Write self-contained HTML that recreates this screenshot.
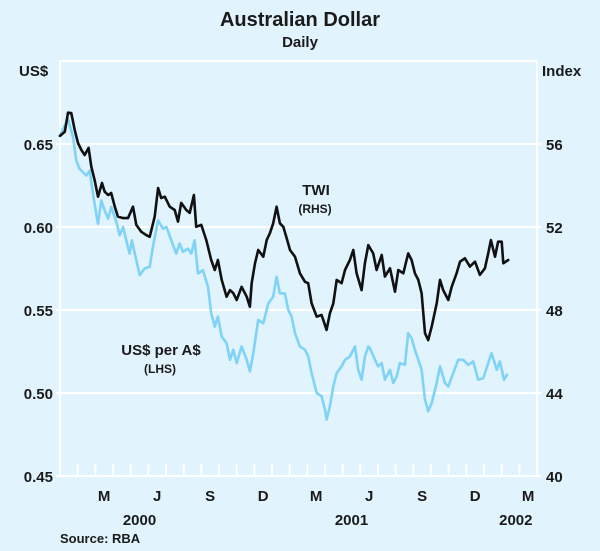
<!DOCTYPE html>
<html><head><meta charset="utf-8"><style>
body{margin:0;background:#e1f3fd;}
svg{display:block;font-family:"Liberation Sans",Arial,sans-serif;}
</style></head><body>
<svg id="chart" width="600" height="551" viewBox="0 0 600 551">
<rect x="0" y="0" width="600" height="551" fill="#e1f3fd"/>
<text x="300" y="26" text-anchor="middle" font-size="20" font-weight="bold" fill="#1a1a1a">Australian Dollar</text>
<text x="300" y="47" text-anchor="middle" font-size="15" font-weight="bold" fill="#1a1a1a">Daily</text>
<text x="19" y="76" font-size="15" font-weight="bold" fill="#1a1a1a">US$</text>
<text x="542" y="76" font-size="15" font-weight="bold" fill="#1a1a1a">Index</text>
<g id="grid"></g>
<g id="axes"></g>
<g id="series"></g>
<text x="316" y="195" text-anchor="middle" font-size="15" font-weight="bold" fill="#1a1a1a">TWI</text>
<text x="315" y="213" text-anchor="middle" font-size="12" font-weight="bold" fill="#1a1a1a">(RHS)</text>
<text x="161" y="355" text-anchor="middle" font-size="15" font-weight="bold" fill="#1a1a1a">US$ per A$</text>
<text x="160" y="373" text-anchor="middle" font-size="12" font-weight="bold" fill="#1a1a1a">(LHS)</text>
<text x="60" y="543" font-size="13" font-weight="bold" fill="#1a1a1a">Source: RBA</text>
</svg>
<script>
const leftTicks=[0.45,0.50,0.55,0.60,0.65];
const rightTicks=[40,44,48,52,56];
const monthLabels=["M","J","S","D","M","J","S","D","M"];
const monthLabelPos=[2,5,8,11,14,17,20,23,26];
const yearLabels=["2000","2001","2002"];
const yearLabelPos=[4.5,16.5,25.8];
const twiMonths=[0,0.27,0.45,0.64,0.83,1.02,1.21,1.40,1.62,1.77,1.96,2.15,2.38,2.53,2.72,2.90,3.10,3.28,3.57,3.85,4.13,4.32,4.60,4.88,5.08,5.36,5.55,5.73,5.93,6.21,6.49,6.68,6.86,7.15,7.34,7.58,7.71,8.00,8.28,8.56,8.76,8.94,9.15,9.43,9.62,9.81,10.00,10.28,10.57,10.75,10.85,11.04,11.22,11.51,11.70,11.88,12.07,12.26,12.45,12.64,12.83,13.02,13.30,13.58,13.87,14.05,14.24,14.53,14.81,15.09,15.28,15.47,15.66,15.94,16.13,16.41,16.60,16.79,17.07,17.26,17.45,17.73,17.92,18.21,18.39,18.68,18.96,19.15,19.43,19.71,19.90,20.09,20.28,20.47,20.66,20.84,21.04,21.32,21.51,21.69,21.98,22.17,22.45,22.64,22.92,23.20,23.49,23.77,24.05,24.24,24.39,24.62,24.80,25.00,25.09,25.37];
const twiValues=[56.39,56.59,57.51,57.49,56.68,56.05,55.71,55.47,55.81,54.91,54.27,53.46,54.12,53.70,53.54,53.64,52.98,52.50,52.43,52.43,52.98,52.10,51.77,51.61,51.53,52.50,53.88,53.40,53.46,52.98,52.82,52.26,53.16,52.82,52.68,53.54,52.01,52.10,51.37,50.41,49.93,50.41,49.45,48.64,48.96,48.81,48.48,49.12,48.64,48.16,49.30,50.25,50.89,50.57,51.37,51.70,52.18,52.98,52.18,52.01,51.46,50.89,50.57,49.77,49.36,49.29,48.32,47.68,47.76,47.04,47.84,48.32,49.45,49.29,49.93,50.41,50.89,49.77,48.96,50.25,51.13,50.73,49.93,50.65,49.61,50.01,48.88,49.93,49.77,50.73,50.41,49.77,49.45,48.81,46.88,46.55,47.20,48.32,49.45,48.96,48.48,49.12,49.77,50.33,50.49,50.09,50.33,49.69,50.01,50.73,51.37,50.57,51.29,51.29,50.25,50.41];
const usdMonths=[0,0.45,0.74,0.92,1.11,1.30,1.49,1.68,1.87,2.05,2.15,2.34,2.53,2.72,2.90,3.19,3.38,3.57,3.75,3.94,4.07,4.32,4.51,4.79,5.08,5.26,5.55,5.83,6.02,6.30,6.58,6.77,6.96,7.24,7.43,7.62,7.81,8.09,8.38,8.56,8.76,8.94,9.15,9.43,9.62,9.81,10.00,10.28,10.57,10.75,10.94,11.22,11.51,11.79,12.07,12.26,12.45,12.73,12.92,13.11,13.30,13.58,13.87,14.05,14.24,14.53,14.81,15.00,15.09,15.28,15.47,15.66,15.94,16.13,16.41,16.70,16.88,17.07,17.26,17.45,17.54,17.83,18.01,18.21,18.39,18.68,18.86,19.06,19.24,19.52,19.71,19.90,20.09,20.28,20.47,20.66,20.84,21.04,21.32,21.51,21.79,21.98,22.26,22.54,22.82,23.11,23.39,23.67,23.96,24.24,24.43,24.72,24.90,25.13,25.31];
const usdValues=[0.655,0.665,0.654,0.640,0.635,0.633,0.631,0.634,0.620,0.608,0.602,0.616,0.610,0.605,0.612,0.603,0.595,0.600,0.592,0.584,0.592,0.580,0.571,0.575,0.576,0.588,0.604,0.599,0.600,0.592,0.584,0.590,0.585,0.587,0.584,0.592,0.572,0.574,0.564,0.548,0.540,0.546,0.534,0.530,0.520,0.526,0.518,0.528,0.520,0.513,0.524,0.544,0.542,0.554,0.558,0.570,0.560,0.560,0.550,0.546,0.536,0.528,0.526,0.522,0.512,0.500,0.498,0.490,0.484,0.492,0.504,0.512,0.516,0.520,0.522,0.528,0.514,0.508,0.522,0.528,0.527,0.520,0.516,0.518,0.508,0.514,0.506,0.510,0.518,0.517,0.536,0.533,0.526,0.520,0.514,0.496,0.489,0.494,0.506,0.516,0.506,0.504,0.512,0.520,0.520,0.517,0.519,0.508,0.509,0.518,0.524,0.514,0.519,0.508,0.511];

const NS="http://www.w3.org/2000/svg";
const X0=60,X1=537,Y0=61,Y1=476,MONTHS=27;
function xS(m){return X0+(X1-X0)*m/MONTHS;}
function yL(v){return Y1-(v-0.45)/(0.70-0.45)*(Y1-Y0);}
function yR(v){return Y1-(v-40)/(60-40)*(Y1-Y0);}
function mk(tag,attrs,parent){const e=document.createElementNS(NS,tag);for(const k in attrs)e.setAttribute(k,attrs[k]);parent.appendChild(e);return e;}
const gridG=document.getElementById('grid'),axesG=document.getElementById('axes'),seriesG=document.getElementById('series');

leftTicks.forEach((t,i)=>{
  const y=yL(t);
  if(i>0){const g=mk('line',{x1:X0-4,x2:X1+4,y1:y,y2:y,stroke:'#fff','stroke-width':2},gridG);
  
  }
  const tx=mk('text',{x:53,y:y+6,'text-anchor':'end','font-size':15,'font-weight':'bold',fill:'#1a1a1a'},axesG);
  tx.textContent=t.toFixed(2);
  
  
});
rightTicks.forEach(t=>{
  const tx=mk('text',{x:546,y:yR(t)+6,'font-size':15,'font-weight':'bold',fill:'#1a1a1a'},axesG);
  tx.textContent=String(t);
  
  
});
const topBorder=mk('line',{x1:X0,x2:X1,y1:Y0,y2:Y0,stroke:'#fff','stroke-width':2},gridG);


const leftAxis=mk('line',{x1:X0,x2:X0,y1:Y0,y2:Y1,stroke:'#fff','stroke-width':2},axesG);


const rightAxis=mk('line',{x1:X1,x2:X1,y1:Y0,y2:Y1,stroke:'#fff','stroke-width':2},axesG);


const bottomAxis=mk('line',{x1:X0-4,x2:X1+4,y1:Y1,y2:Y1,stroke:'#fff','stroke-width':2},axesG);


for(let m=1;m<MONTHS;m++){
  const tk=mk('line',{x1:xS(m),x2:xS(m),y1:Y1-12,y2:Y1,stroke:'#fff','stroke-width':2},axesG);
  
  
}
monthLabels.forEach((l,i)=>{
  const tx=mk('text',{x:xS(monthLabelPos[i]+0.5),y:501,'text-anchor':'middle','font-size':15,'font-weight':'bold',fill:'#1a1a1a'},axesG);
  tx.textContent=l;
  
  
});
yearLabels.forEach((l,i)=>{
  const tx=mk('text',{x:xS(yearLabelPos[i]),y:525,'text-anchor':'middle','font-size':15,'font-weight':'bold',fill:'#1a1a1a'},axesG);
  tx.textContent=l;
  
  
});
const usdPts=usdMonths.map((m,i)=>xS(m).toFixed(1)+','+yL(usdValues[i]).toFixed(1)).join(' ');
const usdLine=mk('polyline',{points:usdPts,fill:'none',stroke:'#7fd3f7','stroke-width':2.6,'stroke-linejoin':'round','stroke-linecap':'round'},seriesG);


const twiPts=twiMonths.map((m,i)=>xS(m).toFixed(1)+','+yR(twiValues[i]).toFixed(1)).join(' ');
const twiLine=mk('polyline',{points:twiPts,fill:'none',stroke:'#111','stroke-width':2.6,'stroke-linejoin':'round','stroke-linecap':'round'},seriesG);


</script>
</body></html>
